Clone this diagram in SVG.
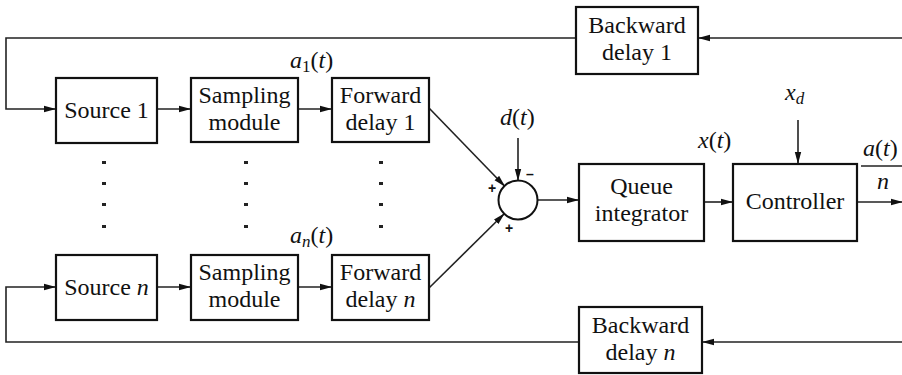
<svg xmlns="http://www.w3.org/2000/svg" width="902" height="375" viewBox="0 0 902 375">
<defs>
<marker id="ah" markerWidth="12" markerHeight="8" refX="11" refY="4" orient="auto" markerUnits="userSpaceOnUse">
<path d="M0,0.8 L12,4 L0,7.2 Z" fill="#111"/>
</marker>
</defs>
<style>
.box{fill:#fff;stroke:#111;stroke-width:2.2}
.ln{fill:none;stroke:#222;stroke-width:1.6}
text{font-family:'Liberation Serif','DejaVu Serif',serif;font-size:24px;fill:#111}
.t{text-anchor:middle}
.i{font-style:italic}
.dot{fill:#222}
.sg{font-family:'Liberation Sans',sans-serif;font-size:14px;font-weight:bold;text-anchor:middle}
</style>
<rect width="902" height="375" fill="#fff"/>
<g id="connectors">
<polyline class="ln" points="902,38 699,38" marker-end="url(#ah)"/>
<polyline class="ln" points="576,38 6,38 6,109 55,109" marker-end="url(#ah)"/>
<line class="ln" x1="157" y1="109" x2="190" y2="109" marker-end="url(#ah)"/>
<line class="ln" x1="298" y1="109" x2="331" y2="109" marker-end="url(#ah)"/>
<line class="ln" x1="429" y1="108" x2="504.5" y2="186" marker-end="url(#ah)"/>
<polyline class="ln" points="902,342 703,342" marker-end="url(#ah)"/>
<polyline class="ln" points="579,342 6,342 6,287 55,287" marker-end="url(#ah)"/>
<line class="ln" x1="157" y1="287" x2="190" y2="287" marker-end="url(#ah)"/>
<line class="ln" x1="298" y1="287" x2="331" y2="287" marker-end="url(#ah)"/>
<line class="ln" x1="429" y1="288" x2="504" y2="214" marker-end="url(#ah)"/>
<line class="ln" x1="518" y1="138" x2="518" y2="180" marker-end="url(#ah)"/>
<line class="ln" x1="538" y1="200" x2="578" y2="200" marker-end="url(#ah)"/>
<line class="ln" x1="704" y1="202" x2="732" y2="202" marker-end="url(#ah)"/>
<line class="ln" x1="798" y1="120" x2="798" y2="163" marker-end="url(#ah)"/>
<line class="ln" x1="857" y1="202" x2="902" y2="202" marker-end="url(#ah)"/>
<line class="ln" x1="861" y1="166" x2="902" y2="166"/>
</g>
<g id="source1"><rect class="box" x="56" y="78" width="101" height="65"/><text class="t" x="106.5" y="118">Source 1</text></g>
<g id="sampling1"><rect class="box" x="191" y="78" width="107" height="64"/><text class="t" x="244.5" y="103">Sampling</text><text class="t" x="244.5" y="130">module</text></g>
<g id="fdelay1"><rect class="box" x="332" y="78" width="97" height="64"/><text class="t" x="380.5" y="103">Forward</text><text class="t" x="380.5" y="130">delay 1</text></g>
<g id="sourcen"><rect class="box" x="56" y="255" width="101" height="65"/><text class="t" x="106.5" y="295">Source <tspan class="i">n</tspan></text></g>
<g id="samplingn"><rect class="box" x="191" y="255" width="107" height="65"/><text class="t" x="244.5" y="280">Sampling</text><text class="t" x="244.5" y="307">module</text></g>
<g id="fdelayn"><rect class="box" x="332" y="255" width="97" height="65"/><text class="t" x="380.5" y="280">Forward</text><text class="t" x="380.5" y="307">delay <tspan class="i">n</tspan></text></g>
<g id="bdelay1"><rect class="box" x="576" y="7" width="122" height="67"/><text class="t" x="637" y="33">Backward</text><text class="t" x="637" y="60">delay 1</text></g>
<g id="bdelayn"><rect class="box" x="579" y="307" width="123" height="66"/><text class="t" x="640.5" y="333">Backward</text><text class="t" x="640.5" y="360">delay <tspan class="i">n</tspan></text></g>
<g id="sum"><circle cx="518" cy="200" r="19.5" fill="#fff" stroke="#111" stroke-width="2"/>
<text class="sg" x="530" y="179">–</text><text class="sg" x="492" y="193">+</text><text class="sg" x="509" y="233">+</text></g>
<g id="queue"><rect class="box" x="579" y="164" width="125" height="77"/><text class="t" x="641.5" y="194">Queue</text><text class="t" x="641.5" y="221">integrator</text></g>
<g id="controller"><rect class="box" x="733" y="164" width="124" height="77"/><text class="t" x="795" y="209">Controller</text></g>
<g id="labels">
<text x="290" y="68"><tspan class="i">a</tspan><tspan font-size="17" dy="4">1</tspan><tspan dy="-4">(</tspan><tspan class="i">t</tspan>)</text>
<text x="290" y="243"><tspan class="i">a</tspan><tspan class="i" font-size="17" dy="4">n</tspan><tspan dy="-4">(</tspan><tspan class="i">t</tspan>)</text>
<text x="500" y="125"><tspan class="i">d</tspan>(<tspan class="i">t</tspan>)</text>
<text x="698" y="148"><tspan class="i">x</tspan>(<tspan class="i">t</tspan>)</text>
<text x="785" y="100"><tspan class="i">x</tspan><tspan class="i" font-size="17" dy="4">d</tspan></text>
<text x="863" y="156"><tspan class="i">a</tspan>(<tspan class="i">t</tspan>)</text>
<text class="i" x="877" y="189">n</text>
</g>
<g id="dots">
<rect class="dot" x="102" y="161" width="4" height="3"/><rect class="dot" x="102" y="182" width="4" height="3"/><rect class="dot" x="102" y="203" width="4" height="3"/><rect class="dot" x="102" y="225" width="4" height="3"/>
<rect class="dot" x="244" y="161" width="4" height="3"/><rect class="dot" x="244" y="182" width="4" height="3"/><rect class="dot" x="244" y="203" width="4" height="3"/><rect class="dot" x="244" y="225" width="4" height="3"/>
<rect class="dot" x="379" y="161" width="4" height="3"/><rect class="dot" x="379" y="182" width="4" height="3"/><rect class="dot" x="379" y="203" width="4" height="3"/><rect class="dot" x="379" y="225" width="4" height="3"/>
</g>
</svg>
